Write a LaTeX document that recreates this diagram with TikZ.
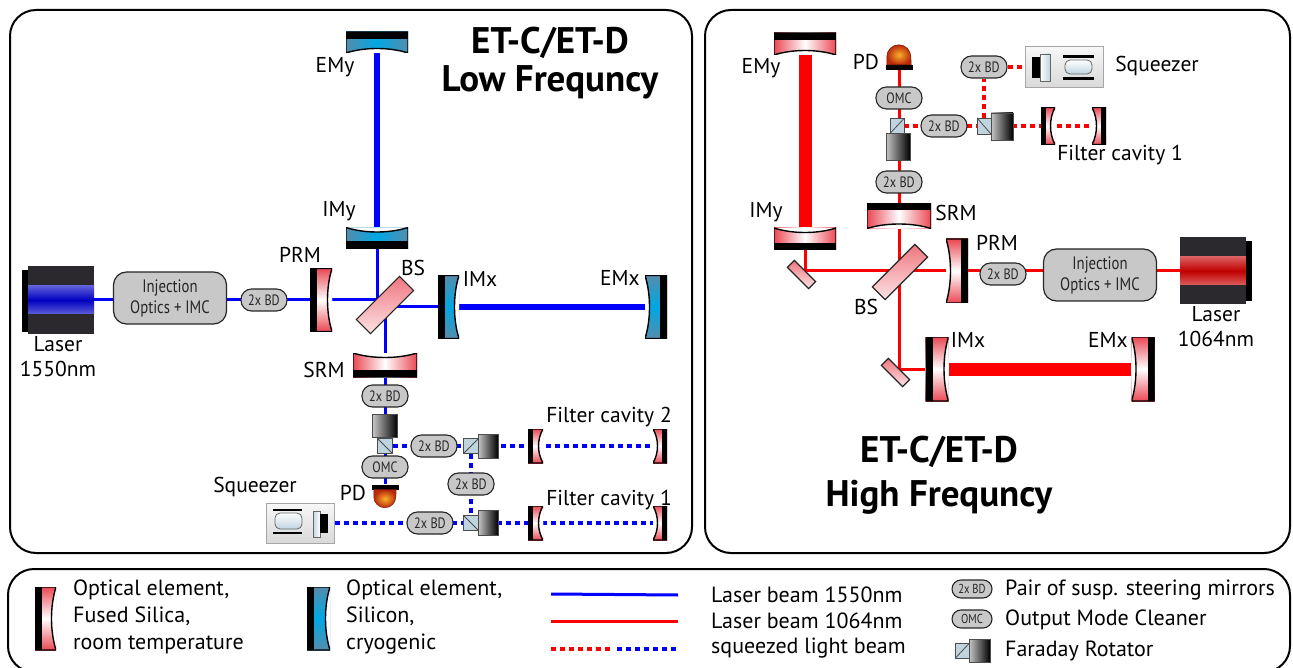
\documentclass[tikz,border=0pt]{standalone}
\usepackage{fontspec}
\setmainfont{PT Sans}
\newfontfamily\condfont[FakeStretch=0.82]{PT Sans}
\usetikzlibrary{positioning,calc,backgrounds}

\definecolor{fsred}{RGB}{234,72,84}
\definecolor{siedge}{RGB}{84,140,172}
\definecolor{sicore}{RGB}{0,168,228}
\definecolor{boxgray}{RGB}{200,200,200}
\definecolor{laserbody}{RGB}{44,41,46}
\definecolor{cubeblue}{RGB}{192,212,224}
\definecolor{pdin}{RGB}{250,175,45}
\definecolor{pdout}{RGB}{185,40,10}

% corners of the mirror being drawn
\newcommand{\mcorners}{%
  \coordinate (nw) at (path picture bounding box.north west);
  \coordinate (ne) at (path picture bounding box.north east);
  \coordinate (sw) at (path picture bounding box.south west);
  \coordinate (se) at (path picture bounding box.south east);}

\begin{document}
\begin{tikzpicture}[x=1pt, y=-1pt,
	panel/.style  = {draw, line width=2, rounded corners=26},
	lbl/.style    = {inner sep=0pt, font=\fontsize{21.5}{25}\selectfont},
	title/.style  = {align=center, font=\bfseries\fontsize{37}{38}\selectfont},
	legtxt/.style = {lbl, anchor=west, align=left, font=\fontsize{22}{27}\selectfont},
	mirror/.style = {rectangle, inner sep=0pt, outer sep=0pt},
	fsv/.style    = {mirror, top color=fsred, bottom color=fsred, middle color=white},
	fsh/.style    = {mirror, left color=fsred, right color=fsred, middle color=white},
	siv/.style    = {mirror, top color=siedge, bottom color=siedge, middle color=sicore},
	sih/.style    = {mirror, left color=siedge, right color=siedge, middle color=sicore},
	barW/.style   = {path picture={\mcorners
		\fill[white] (ne) .. controls ($(ne)!0.3!(se)+(-6,0)$) and ($(ne)!0.7!(se)+(-6,0)$) .. (se) -- cycle;
		\fill (nw) rectangle ($(sw)+(#1,0)$);
		\draw[line width=1.4] (ne) .. controls ($(ne)!0.3!(se)+(-6,0)$) and ($(ne)!0.7!(se)+(-6,0)$) .. (se) -- (sw) -- (nw) -- cycle;}},
	barW/.default = 7,
	barE/.style   = {path picture={\mcorners
		\fill[white] (nw) .. controls ($(nw)!0.3!(sw)+(6,0)$) and ($(nw)!0.7!(sw)+(6,0)$) .. (sw) -- cycle;
		\fill ($(ne)-(#1,0)$) rectangle (se);
		\draw[line width=1.4] (nw) .. controls ($(nw)!0.3!(sw)+(6,0)$) and ($(nw)!0.7!(sw)+(6,0)$) .. (sw) -- (se) -- (ne) -- cycle;}},
	barE/.default = 7,
	barN/.style   = {path picture={\mcorners
		\fill[white] (sw) .. controls ($(sw)!0.3!(se)+(0,-6)$) and ($(sw)!0.7!(se)+(0,-6)$) .. (se) -- cycle;
		\fill (nw) rectangle ($(ne)+(0,#1)$);
		\draw[line width=1.4] (sw) .. controls ($(sw)!0.3!(se)+(0,-6)$) and ($(sw)!0.7!(se)+(0,-6)$) .. (se) -- (ne) -- (nw) -- cycle;}},
	barN/.default = 7,
	barS/.style   = {path picture={\mcorners
		\fill[white] (nw) .. controls ($(nw)!0.3!(ne)+(0,6)$) and ($(nw)!0.7!(ne)+(0,6)$) .. (ne) -- cycle;
		\fill ($(sw)+(0,-#1)$) rectangle (se);
		\draw[line width=1.4] (nw) .. controls ($(nw)!0.3!(ne)+(0,6)$) and ($(nw)!0.7!(ne)+(0,6)$) .. (ne) -- (se) -- (sw) -- cycle;}},
	barS/.default = 7,
	plate/.style  = {rectangle, inner sep=0pt, draw=black!85, line width=1.2, top color=fsred!75, bottom color=fsred!15},
	laserbox/.style = {rectangle, inner sep=0pt, fill=laserbody, minimum width=66, minimum height=67,
		path picture={\shade[top color=#1!12, bottom color=#1!12, middle color=#1!75!black]
			([yshift=14pt]path picture bounding box.west) rectangle ([yshift=-14pt]path picture bounding box.east);}},
	imc/.style    = {rectangle, rounded corners=13, draw=black!85, line width=1.2, fill=boxgray,
		minimum width=113, minimum height=52, align=center, text=black!85, font=\condfont\fontsize{18}{21}\selectfont},
	bd/.style     = {rectangle, rounded corners=10.5, draw=black!85, line width=1.1, fill=boxgray,
		minimum width=46, minimum height=22, inner sep=0pt, text=black!85, font=\condfont\fontsize{15}{15}\selectfont},
	fr/.style     = {rectangle, inner sep=0pt, draw=black!70, line width=0.8, left color=gray!45, right color=black},
	cube/.style   = {rectangle, inner sep=0pt, minimum width=15, minimum height=15, fill=cubeblue, draw=gray!60!black, line width=0.8},
	cubeA/.style  = {cube, path picture={\draw[black!70, line width=0.8] (path picture bounding box.north west) -- (path picture bounding box.south east);}},
	cubeB/.style  = {cube, path picture={\draw[black!70, line width=0.8] (path picture bounding box.south west) -- (path picture bounding box.north east);}},
	pdbar/.style  = {rectangle, inner sep=0pt, fill=black, minimum width=27, minimum height=5},
	pddome/.style = {inner color=pdin, outer color=pdout, draw=pdout!70!black, line width=0.6},
	sqzbox/.style = {rectangle, inner sep=0pt, draw=gray!70, line width=1, top color=gray!6, bottom color=gray!30},
	crystal/.style = {draw=black!60, line width=0.8, rounded corners=5, top color=white, bottom color=cubeblue},
	lfbeam/.style = {blue, line width=3},
	hfbeam/.style = {red, line width=3},
	lfarm/.style  = {blue, line width=6},
	hfarm/.style  = {red, line width=13},
	lfsqz/.style  = {blue, line width=3.5, dash pattern=on 5pt off 4pt},
	hfsqz/.style  = {red, line width=3.5, dash pattern=on 5pt off 4pt}]

	\useasboundingbox (0,0) rectangle (1293,668);

	% the three frames
	\draw[panel] (10,10) rectangle (692,553);
	\draw[panel] (705,10) rectangle (1290,553);
	\draw[panel] (8,569) rectangle (1290,672);

	% ---------------- low frequency detector (1550nm) ----------------
	\node[title] (titleL) at (550,63) {ET-C/ET-D\\Low Frequncy};

	\node[sih, barN, minimum width=62, minimum height=21] (EMyl) at (377,42.5) {};
	\node[sih, barS, minimum width=62, minimum height=21] (IMyl) at (377,238) {};
	\node[siv, barW, minimum width=21, minimum height=63] (IMxl) at (448.5,307) {};
	\node[siv, barE, minimum width=22, minimum height=63] (EMxl) at (656,307) {};
	\node[fsv, barW, minimum width=22, minimum height=63] (PRMl) at (321,300) {};
	\node[fsh, barS, minimum width=64, minimum height=24] (SRMl) at (385,365) {};
	\node[plate, minimum width=61, minimum height=20, rotate=45] (BSl) at (385,305) {};

	\node[laserbox=blue] (laserL) at (61,300) {};
	\fill ([yshift=-4pt]laserL.north west) rectangle ([xshift=-6pt,yshift=2pt]laserL.south west);
	\node[imc] (imcL) at (170,298) {Injection\\Optics + IMC};
	\node[bd] (bdL1) at (264,300) {2x BD};

	% detection bench and filter cavities
	\node[bd] (bdL2) at (385,396) {2x BD};
	\node[fr, minimum width=25, minimum height=23] (frL1) at (385,426) {};
	\node[cubeA] (cubeL1) at (385,446) {};
	\node[bd] (omcL) at (385,467) {OMC};
	\node[pdbar] (PDl) at (385,487) {};
	\shade[pddome] ([xshift=2.5pt]PDl.south west) -- ++(0,7) arc[start angle=180, end angle=360, radius=11pt]
		-- ([xshift=-2.5pt]PDl.south east) -- cycle;

	\node[bd] (bdL3) at (434,446) {2x BD};
	\node[cubeB] (cubeL2) at (471,446) {};
	\node[fr, minimum width=20, minimum height=24] (frL2) at (488,446) {};
	\node[fsv, barW=5, minimum width=15, minimum height=34] (fc2in) at (535.5,446) {};
	\node[fsv, barE=5, minimum width=14, minimum height=34] (fc2end) at (660,446) {};
	\node[bd] (bdL4) at (471,484) {2x BD};
	\node[cubeA] (cubeL3) at (471,523) {};
	\node[fr, minimum width=20, minimum height=25] (frL3) at (488,523) {};
	\node[fsv, barW=5, minimum width=15, minimum height=34] (fc1in) at (535.5,523) {};
	\node[fsv, barE=5, minimum width=14, minimum height=34] (fc1end) at (660,523) {};
	\node[bd] (bdL5) at (430,523) {2x BD};

	\node[sqzbox, minimum width=68, minimum height=40] (sqzL) at (300,523) {};
	\begin{scope}[shift={(sqzL.center)}]
		\shade[crystal] (-25,-10) rectangle (2,6);
		\fill (-27,-14) rectangle (2,-12);
		\fill (-27,9) rectangle (2,11);
		\shade[draw=black!60, line width=0.6, left color=cubeblue, right color=white] (13,-12) rectangle (20,14);
		\fill (20,-9) rectangle (28,10);
	\end{scope}

	% labels
	\node[lbl] (lEMyl) at (335,67) {EMy};
	\node[lbl] (lIMyl) at (339,211) {IMy};
	\node[lbl] (lPRMl) at (300,255) {PRM};
	\node[lbl] (lBSl) at (413,268) {BS};
	\node[lbl] (lIMxl) at (480,279) {IMx};
	\node[lbl] (lEMxl) at (620,278) {EMx};
	\node[lbl] (lSRMl) at (324,370) {SRM};
	\node[lbl, align=center] (lLaserL) at (58,357) {Laser\\1550nm};
	\node[lbl] (lfc2) at (609,417) {Filter cavity 2};
	\node[lbl] (lfc1) at (609,500) {Filter cavity 1};
	\node[lbl] (lPDl) at (353,493) {PD};
	\node[lbl] (lsqzL) at (255,487) {Squeezer};

	% beams
	\begin{scope}[on background layer]
		\draw[lfbeam] (laserL) -- (PRMl) -- (PRMl -| IMyl) -- (IMyl);
		\draw[lfarm] (EMyl) -- (IMyl);
		\draw[lfbeam] (IMxl) -| (SRMl);
		\draw[lfarm] (IMxl) -- (EMxl);
		\draw[lfbeam] (SRMl) -- (PDl);
		\draw[lfsqz] (cubeL1) -- (fc2end);
		\draw[lfsqz] (cubeL2) -- (cubeL3);
		\draw[lfsqz] (sqzL) -- (fc1end);
	\end{scope}

	% ---------------- high frequency detector (1064nm) ----------------
	\node[title, font=\bfseries\fontsize{37}{44}\selectfont] (titleH) at (939,475) {ET-C/ET-D\\High Frequncy};

	\node[fsh, barN, minimum width=62, minimum height=22] (EMyh) at (805,44) {};
	\node[fsh, barS, minimum width=62, minimum height=22] (IMyh) at (805,239) {};
	\coordinate (foldA) at (805,271);
	\node[plate, minimum width=30, minimum height=10, rotate=-45] (FMa) at (801.5,274.5) {};
	\node[plate, minimum width=60, minimum height=18, rotate=45] (BSh) at (900,272) {};
	\node[fsv, barE, minimum width=22, minimum height=64] (PRMh) at (957,271) {};
	\node[bd] (bdH1) at (1003,274) {2x BD};
	\node[imc] (imcH) at (1100,275) {Injection\\Optics + IMC};
	\node[laserbox=red] (laserH) at (1213,271) {};
	\fill ([yshift=-4pt]laserH.north east) rectangle ([xshift=6pt,yshift=4pt]laserH.south east);
	\node[fsh, barN, minimum width=64, minimum height=25] (SRMh) at (899,216) {};
	\coordinate (foldB) at (899,369);
	\node[plate, minimum width=30, minimum height=10, rotate=-45] (FMb) at (895.5,372.5) {};
	\node[fsv, barW, minimum width=23, minimum height=64] (IMxh) at (937,369) {};
	\node[fsv, barE, minimum width=23, minimum height=64] (EMxh) at (1143,369) {};

	% detection bench and filter cavity
	\node[bd] (bdH2) at (899,182) {2x BD};
	\node[fr, minimum width=24, minimum height=27] (frH1) at (898,147) {};
	\node[cubeB, minimum width=14] (cubeH1) at (897,126) {};
	\node[bd] (omcH) at (899,98) {OMC};
	\node[pdbar] (PDh) at (899,67.5) {};
	\shade[pddome] ([xshift=1.5pt]PDh.north west) -- ++(0,-8) arc[start angle=180, end angle=0, radius=12pt]
		-- ([xshift=-1.5pt]PDh.north east) -- cycle;
	\node[bd] (bdH3) at (944,126) {2x BD};
	\node[cubeA, minimum width=14, minimum height=16] (cubeH2) at (984,126) {};
	\node[fr, minimum width=22, minimum height=27] (frH2) at (1002,126.5) {};
	\node[fsv, barW=5, minimum width=14, minimum height=37] (fcHin) at (1048,126) {};
	\node[fsv, barE=5, minimum width=14, minimum height=37] (fcHend) at (1099,126) {};
	\node[bd] (bdH4) at (984,67) {2x BD};

	\node[sqzbox, minimum width=78, minimum height=41] (sqzH) at (1064,67) {};
	\begin{scope}[shift={(sqzH.center)}]
		\fill (-32,-10) rectangle (-24,11);
		\shade[draw=black!60, line width=0.6, left color=white, right color=cubeblue] (-24,-13) rectangle (-14,14);
		\shade[crystal] (1,-7) rectangle (28,7);
		\fill (-1,-12) rectangle (30,-9);
		\fill (-1,10) rectangle (30,13);
	\end{scope}

	% labels
	\node[lbl] (lEMyh) at (761,68) {EMy};
	\node[lbl] (lIMyh) at (766,212) {IMy};
	\node[lbl] (lPDh) at (866,62) {PD};
	\node[lbl] (lsqzH) at (1157,66) {Squeezer};
	\node[lbl] (lfcH) at (1120,155) {Filter cavity 1};
	\node[lbl] (lSRMh) at (956,213) {SRM};
	\node[lbl] (lPRMh) at (997,243) {PRM};
	\node[lbl] (lBSh) at (866,307) {BS};
	\node[lbl] (lIMxh) at (968,340) {IMx};
	\node[lbl] (lEMxh) at (1108,340) {EMx};
	\node[lbl, align=center] (lLaserH) at (1216,327) {Laser\\1064nm};

	% beams
	\begin{scope}[on background layer]
		\draw[hfbeam] (laserH) -- (foldA) -- (IMyh);
		\draw[hfarm] (EMyh) -- (IMyh);
		\draw[hfbeam] (PDh) -- (SRMh) -- (foldB) -- (IMxh);
		\draw[hfarm] (IMxh) -- (EMxh);
		\draw[hfsqz] (cubeH1) -- (fcHend);
		\draw[hfsqz] (cubeH2) -- (bdH4) -- (sqzH);
	\end{scope}

	% ---------------- legend ----------------
	\node[fsv, barW, minimum width=21, minimum height=63] (legFS) at (45.5,618.5) {};
	\node[legtxt] (txtFS) at (73,617) {Optical element,\\Fused Silica,\\room temperature};
	\node[siv, barW, minimum width=23, minimum height=63] (legSI) at (318.5,618.5) {};
	\node[legtxt] (txtSI) at (346,617) {Optical element,\\Silicon,\\cryogenic};

	\node[legtxt] (txtLF) at (711,595) {Laser beam 1550nm};
	\node[legtxt] (txtHF) at (711,621) {Laser beam 1064nm};
	\node[legtxt] (txtSQ) at (711,648) {squeezed light beam};
	\coordinate (lgA) at (551,594);
	\coordinate (lgB) at (551,621);
	\coordinate (lgC) at (551,649);
	\coordinate (lgCm) at (613,649);
	\draw[lfbeam] (lgA) -- (txtLF.west -| 678,0);
	\draw[hfbeam] (lgB) -- (txtHF.west -| 678,0);
	\draw[hfsqz] (lgC) -- (lgCm);
	\draw[lfsqz] ([xshift=4pt]lgCm) -- (678,649);

	\node[bd, minimum width=40, minimum height=18, rounded corners=9, font=\condfont\fontsize{13}{13}\selectfont] (legBD) at (972,589) {2x BD};
	\node[bd, minimum width=40, minimum height=18, rounded corners=9, font=\condfont\fontsize{13}{13}\selectfont] (legOMC) at (972,619) {OMC};
	\node[cubeB, minimum width=14] (legCube) at (962,651) {};
	\node[fr, minimum width=21, minimum height=23] (legFR) at (979.5,651) {};
	\node[legtxt] (txtBD) at (1005,590) {Pair of susp. steering mirrors};
	\node[legtxt] (txtOMC) at (1005,620) {Output Mode Cleaner};
	\node[legtxt] (txtFR) at (1005,651) {Faraday Rotator};

\end{tikzpicture}
\end{document}
